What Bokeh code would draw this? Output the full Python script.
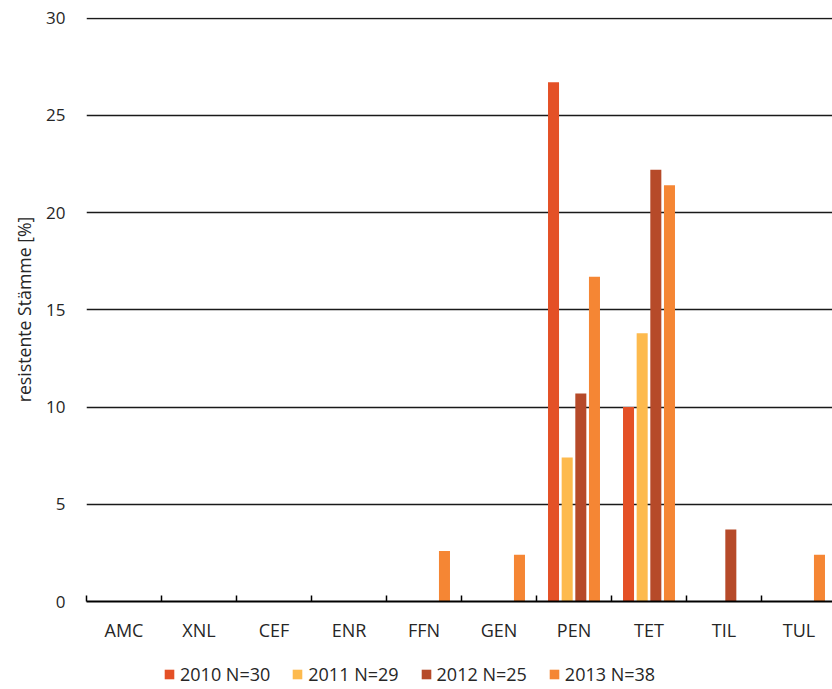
from bokeh.plotting import figure
from bokeh.layouts import column
from bokeh.models import ColumnDataSource, Range1d, FixedTicker, Legend, LegendItem
from bokeh.embed import file_html
from bokeh.resources import INLINE

# Antibiotics on the x axis
categories = ["AMC", "XNL", "CEF", "ENR", "FFN", "GEN", "PEN", "TET", "TIL", "TUL"]

# Share of resistant strains [%] per year
series_names = ["2010 N=30", "2011 N=29", "2012 N=25", "2013 N=38"]
v2010 = [0, 0, 0, 0, 0, 0, 26.7, 10.0, 0, 0]
v2011 = [0, 0, 0, 0, 0, 0, 7.4, 13.8, 0, 0]
v2012 = [0, 0, 0, 0, 0, 0, 10.7, 22.2, 3.7, 0]
v2013 = [0, 0, 0, 0, 2.6, 2.4, 16.7, 21.4, 0, 2.4]
series_values = [v2010, v2011, v2012, v2013]
series_colors = ["#E45026", "#FDBA4E", "#B64A29", "#F58634"]

y_ticks = [0, 5, 10, 15, 20, 25, 30]

FONT = "Open Sans"
TEXT_COLOR = "#262626"

FRAME_LEFT = 86
WIDTH = 832
CHART_H = 648
LEGEND_H = 41
CAT_PX = 75.0  # pixel width of one category slot

p = figure(
    width=WIDTH, height=CHART_H,
    output_backend="svg", toolbar_location=None,
    x_range=Range1d(0, (WIDTH - FRAME_LEFT) / CAT_PX),
    y_range=Range1d(0, 30.03),
    min_border_left=FRAME_LEFT, min_border_right=0,
    min_border_top=17, min_border_bottom=47,
    outline_line_color=None,
)
p.background_fill_color = "white"
p.border_fill_color = "white"

# Grouped bars: four slots per category
bar_w = 0.147
step = 0.182
centers = [i + 0.5 for i in range(len(categories))]
for j, (vals, col) in enumerate(zip(series_values, series_colors)):
    xs = [c + (j - 1.5) * step for c in centers]
    src = ColumnDataSource(dict(x=xs, top=vals))
    p.vbar(x="x", top="top", bottom=0, width=bar_w, source=src,
           fill_color=col, line_color=None)

# X axis: labels at category centres, small inward ticks at the boundaries
xa = p.xaxis[0]
xa.ticker = FixedTicker(ticks=centers, minor_ticks=list(range(len(categories) + 1)))
xa.major_label_overrides = {c: name for c, name in zip(centers, categories)}
xa.major_tick_in = 0
xa.major_tick_out = 0
xa.minor_tick_in = 6
xa.minor_tick_out = 0
xa.minor_tick_line_color = "black"
xa.minor_tick_line_width = 1.5
xa.axis_line_color = "black"
xa.axis_line_width = 2
xa.major_label_text_font = FONT
xa.major_label_text_font_size = "18px"
xa.major_label_text_color = TEXT_COLOR
xa.major_label_standoff = 16

# Y axis: no line, labels only
ya = p.yaxis[0]
ya.ticker = FixedTicker(ticks=y_ticks)
ya.axis_line_color = None
ya.major_tick_in = 0
ya.major_tick_out = 0
ya.minor_tick_in = 0
ya.minor_tick_out = 0
ya.major_label_text_font = FONT
ya.major_label_text_font_size = "17px"
ya.major_label_text_color = TEXT_COLOR
ya.major_label_standoff = 21
ya.axis_label = "resistente Stämme [%]"
ya.axis_label_text_font = FONT
ya.axis_label_text_font_size = "17.7px"
ya.axis_label_text_font_style = "normal"
ya.axis_label_text_color = TEXT_COLOR
ya.axis_label_standoff = 7

p.xgrid.grid_line_color = None
p.ygrid.ticker = FixedTicker(ticks=y_ticks[1:])
p.ygrid.grid_line_color = "#1a1a1a"
p.ygrid.grid_line_width = 1.3

# Legend strip under the chart; its swatch renderers sit outside the visible range
lg = figure(
    width=WIDTH, height=LEGEND_H,
    output_backend="svg", toolbar_location=None,
    x_range=Range1d(0, 1), y_range=Range1d(0, 1),
    x_axis_type=None, y_axis_type=None,
    min_border_left=0, min_border_right=0, min_border_top=0, min_border_bottom=0,
    outline_line_color=None,
)
lg.grid.visible = False
swatches = []
for col in series_colors:
    swatches.append(lg.vbar(x=[5], top=[1], width=0.1, fill_color=col, line_color=None))

legend = Legend(
    items=[LegendItem(label=n, renderers=[r]) for n, r in zip(series_names, swatches)],
    orientation="horizontal",
    location=(77, 3),
    glyph_width=12, glyph_height=12,
    label_standoff=5,
    spacing=21,
    padding=0, margin=0,
    border_line_color=None,
    background_fill_alpha=0,
    label_text_font=FONT,
    label_text_font_size="18px",
    label_text_color=TEXT_COLOR,
)
lg.add_layout(legend, "center")

layout = column(p, lg, spacing=0)
open("out.html", "w").write(file_html(layout, INLINE))
